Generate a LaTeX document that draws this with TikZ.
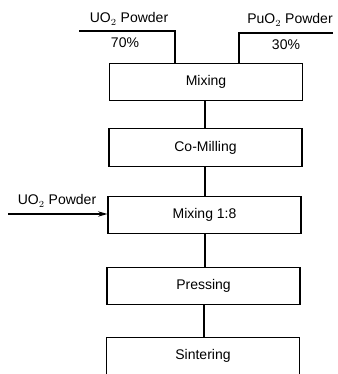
\documentclass[tikz,border=0pt]{standalone}
\usepackage{fontspec}
\setmainfont{Liberation Sans}
\usetikzlibrary{arrows.meta,calc}
\begin{document}
\begin{tikzpicture}[x=0.75pt,y=-0.75pt,
  box/.style={draw,line width=0.9pt,minimum width=144.75pt,minimum height=28pt,inner sep=0pt,font=\fontsize{10.5}{12}\selectfont},
  lbl/.style={inner sep=0pt,font=\fontsize{10.5}{12}\selectfont},
  conn/.style={line width=0.9pt}]
\useasboundingbox (0,0) rectangle (337,374);
\clip (0,0) rectangle (337,374);
\node[box] (mix) at (206,82) {Mixing};
\node[box] (comill) at (205.5,147.5) {Co-Milling};
\node[box] (mix18) at (204.5,215) {Mixing 1:8};
\node[box] (press) at (203.5,286) {Pressing};
\node[box] (sint) at (203,356) {Sintering};
% top inputs
\coordinate (uoA) at (79,31);
\coordinate (puA) at (333,33);
\draw[conn] (uoA) -- (175,31) -- (mix.north -| 175,0);
\draw[conn] (puA) -- (239,33) -- (mix.north -| 239,0);
\node[lbl] (uolbl) at (129,19) {UO$_2$ Powder};
\node[lbl] (uopct) at (125,43) {70\%};
\node[lbl] (pulbl) at (290,20) {PuO$_2$ Powder};
\node[lbl] (pupct) at (286,45) {30\%};
% chain
\draw[conn] (mix.south -| 205,0) -- (comill.north -| 205,0);
\draw[conn] (comill.south -| 205,0) -- (mix18.north -| 205,0);
\draw[conn] (mix18.south -| 205,0) -- (press.north -| 205,0);
\draw[conn] (press.south -| 204,0) -- (sint.north -| 204,0);
% side input
\coordinate (sideA) at (8,214);
\node[lbl] (sidelbl) at (57,201) {UO$_2$ Powder};
\draw[conn,-{Stealth[length=7pt,width=4pt]}] (sideA) -- (mix18.west |- sideA);
\end{tikzpicture}
\end{document}
